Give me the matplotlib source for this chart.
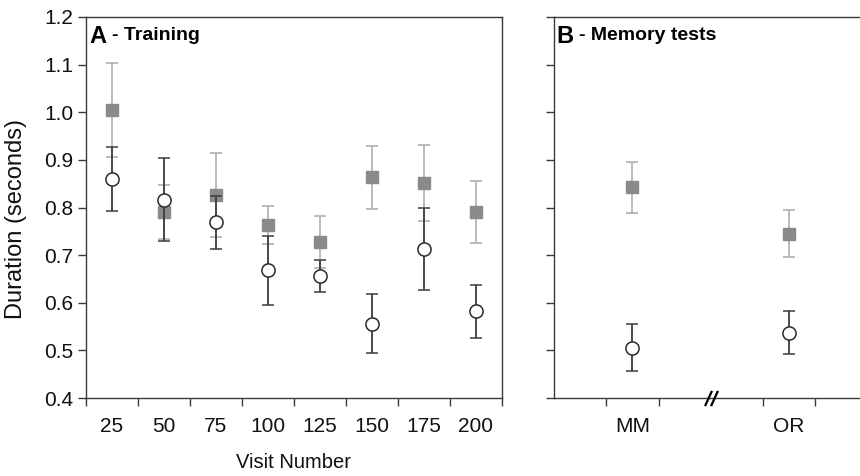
import matplotlib
matplotlib.use("Agg")
import matplotlib.pyplot as plt
import numpy as np

plt.rcParams['font.family'] = ['Liberation Sans', 'DejaVu Sans']

# ---- data ----
visits = ['25', '50', '75', '100', '125', '150', '175', '200']
gray_train = [1.005, 0.791, 0.827, 0.763, 0.728, 0.863, 0.851, 0.791]
gray_train_err = [0.098, 0.057, 0.088, 0.040, 0.055, 0.066, 0.080, 0.065]
white_train = [0.860, 0.816, 0.769, 0.668, 0.656, 0.556, 0.713, 0.582]
white_train_err = [0.068, 0.087, 0.056, 0.072, 0.034, 0.062, 0.087, 0.055]

tests = ['MM', 'OR']
gray_test = [0.842, 0.745]
gray_test_err = [0.054, 0.049]
white_test = [0.506, 0.537]
white_test_err = [0.050, 0.045]

yticks = [0.4, 0.5, 0.6, 0.7, 0.8, 0.9, 1.0, 1.1, 1.2]

# ---- style ----
SPINE = '#3a3a3a'
DARK = '#3c3c3c'
LIGHT = '#b5b5b5'
SQ = '#8a8a8a'

fig = plt.figure(figsize=(8.6, 4.76), dpi=100)
W, H = 860, 476
axA = fig.add_axes([85.7 / W, 1 - 398 / H, (502 - 85.7) / W, 381 / H])
axB = fig.add_axes([554.3 / W, 1 - 398 / H, (867 - 554.3) / W, 381 / H])

def style(ax):
    for s in ax.spines.values():
        s.set_color(SPINE)
        s.set_linewidth(1.0)
    ax.set_ylim(0.4, 1.2)
    ax.set_yticks(yticks)
    ax.tick_params(axis='y', direction='out', length=5.5, width=1.0, color=SPINE,
                   labelsize=15, pad=3.5, labelcolor='#111111')
    ax.tick_params(axis='x', which='major', length=0, labelsize=15, pad=14,
                   labelcolor='#111111')
    ax.tick_params(axis='x', which='minor', direction='out', length=5.5, width=1.0,
                   color=SPINE)

def series(ax, x, yg, eg, yw, ew):
    ax.errorbar(x, yg, yerr=eg, fmt='s', color=SQ, ecolor=LIGHT, elinewidth=1.3,
                capsize=4, capthick=1.3, markersize=8.2, markeredgecolor=SQ,
                zorder=2, clip_on=False)
    ax.errorbar(x, yw, yerr=ew, fmt='o', markerfacecolor='white',
                markeredgecolor='#2a2a2a', markeredgewidth=1.1, ecolor=DARK,
                elinewidth=1.3, capsize=4, capthick=1.3, markersize=9.5,
                zorder=3, clip_on=False)

# Panel A
xa = np.arange(len(visits))
series(axA, xa, gray_train, gray_train_err, white_train, white_train_err)
style(axA)
axA.set_xlim(-0.5, len(visits) - 0.5)
axA.set_xticks(xa)
axA.set_xticklabels(visits)
axA.set_xticks(np.arange(len(visits) + 1) - 0.5, minor=True)
axA.set_yticklabels([f'{v:.1f}' for v in yticks])
axA.set_xlabel('Visit Number', fontsize=14.5, labelpad=12, color='#111111')
axA.set_ylabel('Duration (seconds)', fontsize=17, color='#111111')
axA.yaxis.set_label_coords(-0.14, 0.47)
axA.text(0.008, 0.978, 'A', transform=axA.transAxes, fontsize=17, fontweight='bold',
         va='top', ha='left')
axA.text(0.062, 0.975, '- Training', transform=axA.transAxes, fontsize=14,
         fontweight='bold', va='top', ha='left')

# Panel B
xb = np.array([1, 4])
series(axB, xb, gray_test, gray_test_err, white_test, white_test_err)
style(axB)
axB.set_xlim(-0.5, 5.5)
axB.set_xticks(xb)
axB.set_xticklabels(tests)
axB.set_xticks([0.5, 1.5, 3.5, 4.5], minor=True)
axB.set_yticklabels([])
axB.text(0.008, 0.978, 'B', transform=axB.transAxes, fontsize=17, fontweight='bold',
         va='top', ha='left')
axB.text(0.08, 0.975, '- Memory tests', transform=axB.transAxes, fontsize=14,
         fontweight='bold', va='top', ha='left')
# axis break marks
axB.plot([2.5 - 0.06, 2.5 + 0.06], [0.4, 0.4], linestyle='none', color='black',
         marker=[(-1, -2.2), (1, 2.2)], markersize=11, markeredgewidth=1.6,
         clip_on=False, zorder=5)

fig.savefig('out.png', dpi=100)
